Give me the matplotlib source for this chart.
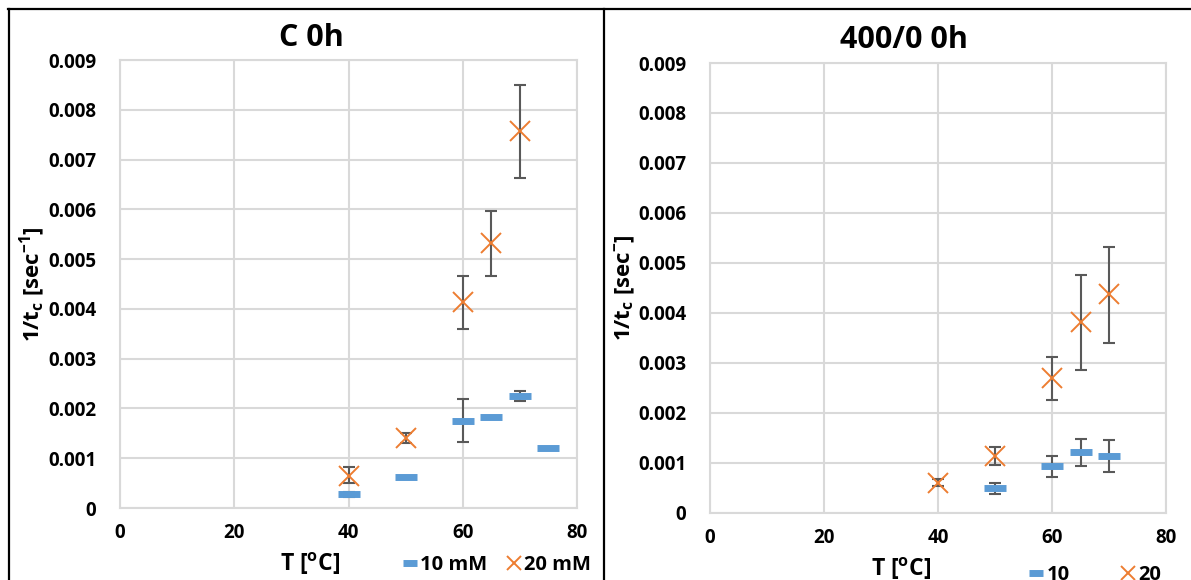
import matplotlib
matplotlib.use("Agg")
import matplotlib.pyplot as plt
from matplotlib.lines import Line2D

plt.rcParams['font.family'] = ['Open Sans', 'DejaVu Sans']
plt.rcParams['font.weight'] = 'bold'
plt.rcParams['mathtext.fontset'] = 'custom'
plt.rcParams['mathtext.rm'] = 'Open Sans:bold'
plt.rcParams['mathtext.it'] = 'Open Sans:bold'
plt.rcParams['mathtext.bf'] = 'Open Sans:bold'

# ---- data: left panel "C 0h"
c_t10 = [40, 50, 60, 65, 70, 75]
c_y10 = [0.00028, 0.00062, 0.00175, 0.00183, 0.00226, 0.00120]
c_lo10 = [0.00022, 0.00062, 0.00132, 0.00183, 0.00215, 0.00120]
c_hi10 = [0.00033, 0.00062, 0.00218, 0.00183, 0.00236, 0.00120]

c_t20 = [40, 50, 60, 65, 70]
c_y20 = [0.00065, 0.00140, 0.00413, 0.00533, 0.00757]
c_lo20 = [0.00050, 0.00130, 0.00360, 0.00466, 0.00663]
c_hi20 = [0.00083, 0.00150, 0.00467, 0.00597, 0.00850]

# ---- data: right panel "400/0 0h"
r_t10 = [50, 60, 65, 70]
r_y10 = [0.00050, 0.00095, 0.00122, 0.00115]
r_lo10 = [0.00039, 0.00073, 0.00095, 0.00082]
r_hi10 = [0.00060, 0.00115, 0.00148, 0.00146]

r_t20 = [40, 50, 60, 65, 70]
r_y20 = [0.00060, 0.00115, 0.00270, 0.00383, 0.00438]
r_lo20 = [0.00055, 0.00097, 0.00226, 0.00286, 0.00340]
r_hi20 = [0.00068, 0.00133, 0.00312, 0.00477, 0.00533]

x_ticks = [0, 20, 40, 60, 80]
y_ticks = [0, 0.001, 0.002, 0.003, 0.004, 0.005, 0.006, 0.007, 0.008, 0.009]
y_tick_labels = ['0', '0.001', '0.002', '0.003', '0.004', '0.005', '0.006', '0.007', '0.008', '0.009']

BLUE = '#5B9BD5'
ORANGE = '#ED7D31'
ERR = '#595959'
GRID = '#D9D9D9'

W, H = 1191, 580
fig = plt.figure(figsize=(W / 100, H / 100), dpi=100)

# outer frame lines (top, left, divider)
fig.add_artist(Line2D([8 / W, 1], [1 - 9 / H, 1 - 9 / H], color='black', lw=1.6))
fig.add_artist(Line2D([9 / W, 9 / W], [0, 1 - 9 / H], color='black', lw=1.6))
fig.add_artist(Line2D([604 / W, 604 / W], [0, 1 - 9 / H], color='black', lw=1.6))


def err(y, lo, hi):
    return [[a - b for a, b in zip(y, lo)], [b - a for a, b in zip(y, hi)]]


def panel(rect, title, title_xy, t10, y10, lo10, hi10, t20, y20, lo20, hi20,
          ylabel, lab10, lab20, xlab_x, ylab_x, leg_x, leg_y, colsp):
    ax = fig.add_axes(rect)
    ax.errorbar(t10, y10, yerr=err(y10, lo10, hi10), fmt='none', ecolor=ERR,
                elinewidth=1.5, capsize=4, capthick=1.5, zorder=3)
    ax.errorbar(t20, y20, yerr=err(y20, lo20, hi20), fmt='none', ecolor=ERR,
                elinewidth=1.5, capsize=4, capthick=1.5, zorder=3)
    ax.plot(t10, y10, linestyle='none', marker='_', color=BLUE, markersize=16,
            markeredgewidth=5, label=lab10, zorder=4)
    ax.plot(t20, y20, linestyle='none', marker='x', color=ORANGE, markersize=15,
            markeredgewidth=1.4, label=lab20, zorder=5)

    ax.set_xlim(0, 80)
    ax.set_ylim(0, 0.009)
    ax.set_xticks(x_ticks)
    ax.set_yticks(y_ticks)
    ax.set_yticklabels(y_tick_labels)
    ax.tick_params(length=0, labelsize=13.5, pad=11)
    ax.tick_params(axis='y', pad=17)
    ax.grid(True, color=GRID, lw=1.5)
    ax.set_axisbelow(True)
    for s in ax.spines.values():
        s.set_color(GRID)
        s.set_linewidth(1.5)

    fig.text(title_xy[0] / W, 1 - title_xy[1] / H, title, fontsize=22,
             fontweight='bold', ha='center', va='center')
    ax.set_xlabel('T [$^{\\mathrm{o}}$C]', fontsize=16.5, fontweight='bold', va='center')
    ax.xaxis.set_label_coords(xlab_x, -0.125)
    ax.set_ylabel(ylabel, fontsize=16, fontweight='bold', va='center')
    ax.yaxis.set_label_coords(ylab_x, 0.5)

    ax.legend(loc='center left', bbox_to_anchor=(leg_x, leg_y), ncol=2,
              frameon=False, fontsize=14.5, markerscale=0.65, handlelength=0.6,
              handletextpad=0.2, columnspacing=colsp, borderpad=0)
    return ax


panel([120 / W, 1 - 508 / H, 457 / W, 448 / H], 'C 0h', (311, 38),
      c_t10, c_y10, c_lo10, c_hi10, c_t20, c_y20, c_lo20, c_hi20,
      '1/t$_{\\mathrm{c}}$ [sec$^{\\mathrm{-1}}$]', '10 mM', '20 mM',
      xlab_x=0.415, ylab_x=-0.19, leg_x=0.60, leg_y=-0.127, colsp=1.0)

panel([710 / W, 1 - 513 / H, 456 / W, 450 / H], '400/0 0h', (904, 40),
      r_t10, r_y10, r_lo10, r_hi10, r_t20, r_y20, r_lo20, r_hi20,
      '1/t$_{\\mathrm{c}}$ [sec$^{\\mathrm{-}}$]', '10', '20',
      xlab_x=0.42, ylab_x=-0.185, leg_x=0.68, leg_y=-0.138, colsp=2.6)

fig.savefig('out.png', dpi=100)
